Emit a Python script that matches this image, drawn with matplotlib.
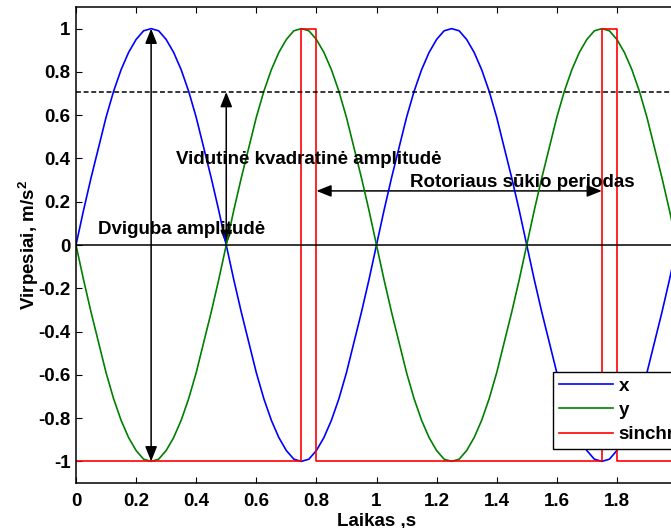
import matplotlib
matplotlib.use("Agg")
import matplotlib.pyplot as plt
import numpy as np
from matplotlib.patches import FancyArrowPatch

# sampled time axis (s)
t = np.linspace(0, 2, 81)

# x channel (0.025 s steps)
x_vals = [0, .16, .31, .45, .59, .71, .81, .89, .95, .99, 1.0,
          .99, .95, .89, .81, .71, .59, .45, .31, .16, 0,
          -.16, -.31, -.45, -.59, -.71, -.81, -.89, -.95, -.99, -1.0,
          -.99, -.95, -.89, -.81, -.71, -.59, -.45, -.31, -.16, 0,
          .16, .31, .45, .59, .71, .81, .89, .95, .99, 1.0,
          .99, .95, .89, .81, .71, .59, .45, .31, .16, 0,
          -.16, -.31, -.45, -.59, -.71, -.81, -.89, -.95, -.99, -1.0,
          -.99, -.95, -.89, -.81, -.71, -.59, -.45, -.31, -.16, 0]

# y channel
y_vals = [0, -.16, -.31, -.45, -.59, -.71, -.81, -.89, -.95, -.99, -1.0,
          -.99, -.95, -.89, -.81, -.71, -.59, -.45, -.31, -.16, 0,
          .16, .31, .45, .59, .71, .81, .89, .95, .99, 1.0,
          .99, .95, .89, .81, .71, .59, .45, .31, .16, 0,
          -.16, -.31, -.45, -.59, -.71, -.81, -.89, -.95, -.99, -1.0,
          -.99, -.95, -.89, -.81, -.71, -.59, -.45, -.31, -.16, 0,
          .16, .31, .45, .59, .71, .81, .89, .95, .99, 1.0,
          .99, .95, .89, .81, .71, .59, .45, .31, .16, 0]

# synchro pulse
sync_t = [0, 0.75, 0.75, 0.8, 0.8, 1.75, 1.75, 1.8, 1.8, 2.0]
sync_v = [-1, -1, 1, 1, -1, -1, 1, 1, -1, -1]

rms_level = 0.707
legend_labels = ["x", "y", "sinchro"]
x_ticks = [0, 0.2, 0.4, 0.6, 0.8, 1.0, 1.2, 1.4, 1.6, 1.8, 2.0]
y_ticks = [-1, -0.8, -0.6, -0.4, -0.2, 0, 0.2, 0.4, 0.6, 0.8, 1]

plt.rcParams["font.family"] = ["Liberation Sans", "DejaVu Sans"]
plt.rcParams["font.weight"] = "bold"
plt.rcParams["axes.labelweight"] = "bold"
plt.rcParams["font.size"] = 13.5
plt.rcParams["axes.unicode_minus"] = False
plt.rcParams["mathtext.fontset"] = "custom"
plt.rcParams["mathtext.rm"] = "Liberation Sans:bold"
plt.rcParams["mathtext.default"] = "rm"

fig = plt.figure(figsize=(6.71, 5.28), dpi=100)
ax = fig.add_axes([76 / 671, 45 / 528, 601 / 671, 476 / 528])

ax.plot(t, x_vals, color="#0000ff", lw=1.2, label=legend_labels[0])
ax.plot(t, y_vals, color="#008000", lw=1.2, label=legend_labels[1])
ax.plot(sync_t, sync_v, color="#ff0000", lw=1.2, label=legend_labels[2])
ax.axhline(0, color="black", lw=1.1)
ax.axhline(rms_level, color="black", lw=1.1, dashes=(3.2, 1.8))

def double_arrow(p0, p1):
    arr = FancyArrowPatch(p0, p1, arrowstyle="<|-|>,head_length=0.5,head_width=0.2",
                          mutation_scale=18, color="black", lw=1.1,
                          shrinkA=0, shrinkB=0)
    ax.add_patch(arr)

double_arrow((0.25, -1), (0.25, 1))
double_arrow((0.5, 0), (0.5, rms_level))
double_arrow((0.8, 0.25), (1.75, 0.25))

ax.text(0.074, 0.05, "Dviguba amplitudė", ha="left", va="baseline")
ax.text(0.334, 0.375, "Vidutinė kvadratinė amplitudė", ha="left", va="baseline")
ax.text(1.113, 0.269, "Rotoriaus sūkio periodas", ha="left", va="baseline")

ax.set_xlim(0, 2)
ax.set_ylim(-1.1, 1.1)
ax.set_xticks(x_ticks)
ax.set_yticks(y_ticks)
ax.set_xticklabels(["%g" % v for v in x_ticks])
ax.set_yticklabels(["%g" % v for v in y_ticks])
ax.tick_params(direction="in", length=4, width=0.8, top=True, right=True)
ax.tick_params(axis="x", pad=7)
ax.tick_params(axis="y", pad=4)
for s in ax.spines.values():
    s.set_linewidth(1.1)

ax.set_xlabel("Laikas ,s")
ax.xaxis.set_label_coords(0.5, -0.063)
ax.set_ylabel(r"Virpesiai, m/s$^2$")
ax.yaxis.set_label_coords(-0.058, 0.5)

leg = ax.legend(loc="upper left", bbox_to_anchor=((553 - 76) / 601, (483 - 372) / 476),
                borderaxespad=0, fancybox=False, framealpha=1, edgecolor="black",
                handlelength=2.9, handletextpad=0.3, labelspacing=0.38, borderpad=0.3)
leg.get_frame().set_linewidth(1.0)

# title mostly outside the cropped image
fig.text(156 / 671, 1.0 + 4 / 528, "Stovo poslinkiai kai sūkio periodas 1 s - kanalai x ir y",
         family=["Liberation Serif", "DejaVu Serif"], weight="normal", size=11,
         ha="left", va="baseline")

fig.savefig("out.png", dpi=100)
